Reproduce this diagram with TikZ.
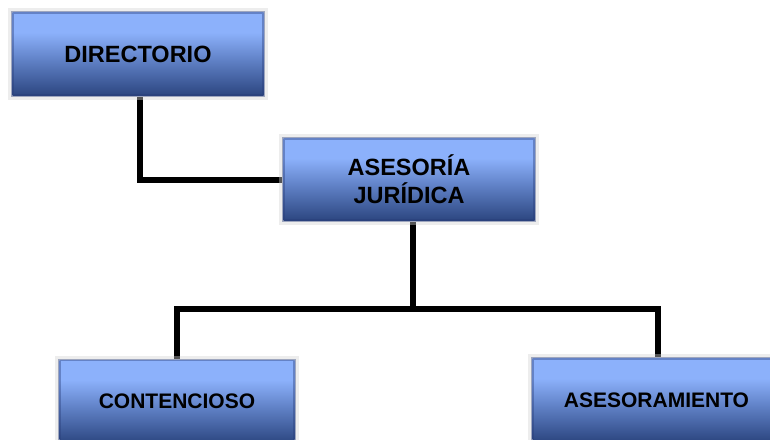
\documentclass[tikz,border=0pt]{standalone}
\usepackage{fontspec}
\setmainfont{Liberation Sans}
\usetikzlibrary{backgrounds}
\definecolor{boxtop}{RGB}{140,177,251}
\definecolor{boxmid}{RGB}{95,128,197}
\definecolor{boxbot}{RGB}{44,70,128}
\definecolor{boxgray}{RGB}{210,210,210}
\definecolor{boxedge}{RGB}{40,60,120}
\pgfdeclareverticalshading{orgshade}{100bp}{color(0bp)=(boxbot); color(25bp)=(boxbot); color(46bp)=(boxmid); color(63bp)=(boxtop); color(75bp)=(boxtop); color(100bp)=(boxtop)}
\tikzset{
  orgbox/.style={rectangle, inner sep=0pt, align=center,
    shading=orgshade,
    draw=boxedge, draw opacity=0.4, line width=2.5pt,
    preaction={draw=boxgray, line width=9pt},
    font=\bfseries},
  bigtxt/.style={font=\fontsize{23.5}{28}\selectfont\bfseries},
  smalltxt/.style={font=\fontsize{21}{25}\selectfont\bfseries},
  link/.style={line width=6pt, black, line join=miter}
}
\begin{document}
\begin{tikzpicture}[x=1pt,y=-1pt]
\useasboundingbox (0,0) rectangle (770,439);
\node[orgbox, bigtxt, minimum width=251pt, minimum height=83pt] (dir) at (138,54) {DIRECTORIO};
\node[orgbox, bigtxt, minimum width=251pt, minimum height=82pt] (ase) at (409,179.5) {ASESORÍA\\JURÍDICA};
\node[orgbox, smalltxt, minimum width=235pt, minimum height=83pt] (cont) at (177,401.5) {CONTENCIOSO};
\node[orgbox, smalltxt, minimum width=248pt, minimum height=83pt] (asm) at (656.5,400) {ASESORAMIENTO};
\coordinate (j) at (412.7,309);
\begin{pgfonlayer}{background}
\draw[link] ([xshift=1.5pt]dir.south) |- (ase.west);
\draw[link] ([xshift=3.7pt]ase.south) -- (j);
\draw[link] (cont.north) |- (j) -| ([xshift=1.5pt]asm.north);
\end{pgfonlayer}
\end{tikzpicture}
\end{document}
